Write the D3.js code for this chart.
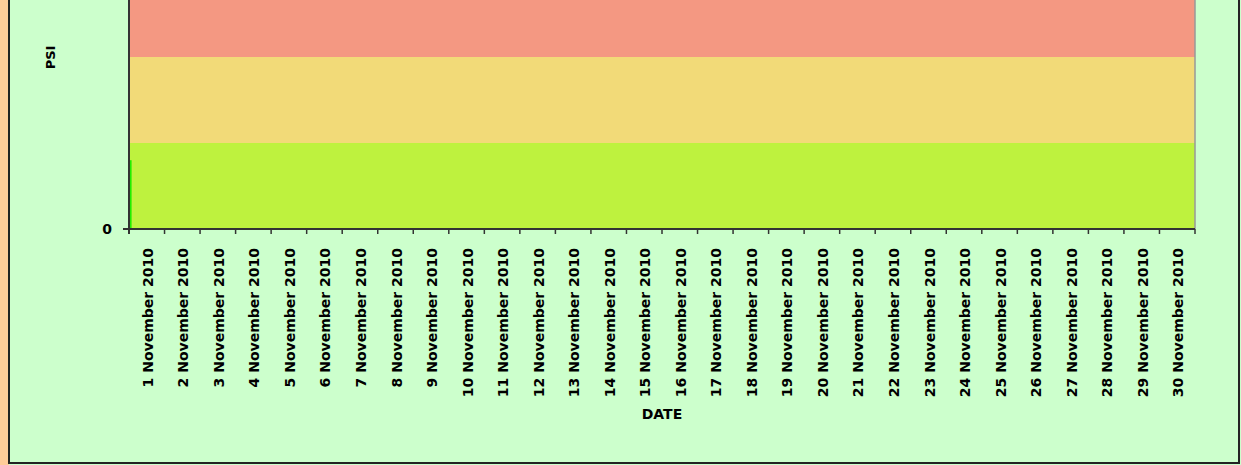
<!DOCTYPE html>
<html>
<head>
<meta charset="utf-8">
<script src="https://cdn.jsdelivr.net/npm/d3@7"></script>
<style>
  body { margin: 0; background: #ccffcc; }
  text { font-family: "DejaVu Sans", sans-serif; font-weight: bold; fill: #000; }
</style>
</head>
<body>
<div id="chart"></div>
<script>
// categories
const days = d3.range(1, 31).map(d => d + " November 2010");
// PSI band limits
const bandNames = ["good", "moderate", "unhealthy"];
const bandLow = [0, 50, 100];
const bandHigh = [50, 100, 200];
const bandColors = ["#bef23e", "#f2da78", "#f49882"];
// PSI readings (only the first day has a reading)
const psiDays = ["1 November 2010"];
const psiValues = [40];
const yTicks = [0];

let width = 1241, height = 465;
const left = 129, right = 1195, bottom = 229;

let svg = d3.select("#chart")
    .append("svg")
    .attr("width", width)
    .attr("height", height);

// page frame
svg.append("rect").attr("x", 0).attr("y", 0).attr("width", width).attr("height", height).attr("fill", "#ccffcc");
svg.append("rect").attr("x", 0).attr("y", 0).attr("width", 9).attr("height", height).attr("fill", "#ffcc99");
svg.append("path")
    .attr("d", `M9,0V463H1239V0`)
    .attr("fill", "none")
    .attr("stroke", "#222")
    .attr("stroke-width", 2);

const x = d3.scaleBand().domain(days).range([left, right]);
const y = d3.scaleLinear().domain([0, 200]).range([bottom, bottom - 344]);

// coloured bands
svg.selectAll(".band")
    .data(bandNames)
    .join("rect")
    .attr("class", "band")
    .attr("x", left)
    .attr("width", right - left)
    .attr("y", (d, i) => y(bandHigh[i]))
    .attr("height", (d, i) => y(bandLow[i]) - y(bandHigh[i]))
    .attr("fill", (d, i) => bandColors[i]);

// readings
svg.selectAll(".psi")
    .data(psiValues)
    .join("rect")
    .attr("class", "psi")
    .attr("x", (d, i) => x(psiDays[i]) + 1)
    .attr("width", 1.6)
    .attr("y", d => y(d))
    .attr("height", d => y(0) - y(d))
    .attr("fill", "#22ee00");

// right edge of plot
svg.append("line")
    .attr("x1", right).attr("x2", right)
    .attr("y1", 0).attr("y2", bottom)
    .attr("stroke", "#999").attr("stroke-width", 1.5);

// x axis
const xAxis = svg.append("g").attr("transform", `translate(0,${bottom})`);
xAxis.append("line")
    .attr("x1", left - 6).attr("x2", right)
    .attr("stroke", "#333").attr("stroke-width", 2);
xAxis.selectAll(".tick")
    .data(days.concat([null]))
    .join("line")
    .attr("class", "tick")
    .attr("x1", (d, i) => left + i * x.bandwidth())
    .attr("x2", (d, i) => left + i * x.bandwidth())
    .attr("y1", 0).attr("y2", 5)
    .attr("stroke", "#333").attr("stroke-width", 1.5);
xAxis.selectAll(".lbl")
    .data(days)
    .join("text")
    .attr("class", "lbl")
    .attr("font-size", 14)
    .attr("text-anchor", "end")
    .attr("transform", d => `translate(${x(d) + x.bandwidth() / 2 + 6},19) rotate(-90)`)
    .text(d => d);

// y axis
svg.append("line")
    .attr("x1", left).attr("x2", left)
    .attr("y1", 0).attr("y2", bottom + 5)
    .attr("stroke", "#333").attr("stroke-width", 2);
svg.selectAll(".ylbl")
    .data(yTicks)
    .join("text")
    .attr("class", "ylbl")
    .attr("font-size", 14)
    .attr("text-anchor", "end")
    .attr("x", 112)
    .attr("y", d => y(d) + 5)
    .text(d => d);

// axis titles
svg.append("text")
    .attr("font-size", 14)
    .attr("text-anchor", "middle")
    .attr("x", (left + right) / 2)
    .attr("y", 419)
    .text("DATE");
svg.append("text")
    .attr("font-size", 13)
    .attr("text-anchor", "middle")
    .attr("transform", "translate(55,57.5) rotate(-90)")
    .text("PSI");
</script>
</body>
</html>
